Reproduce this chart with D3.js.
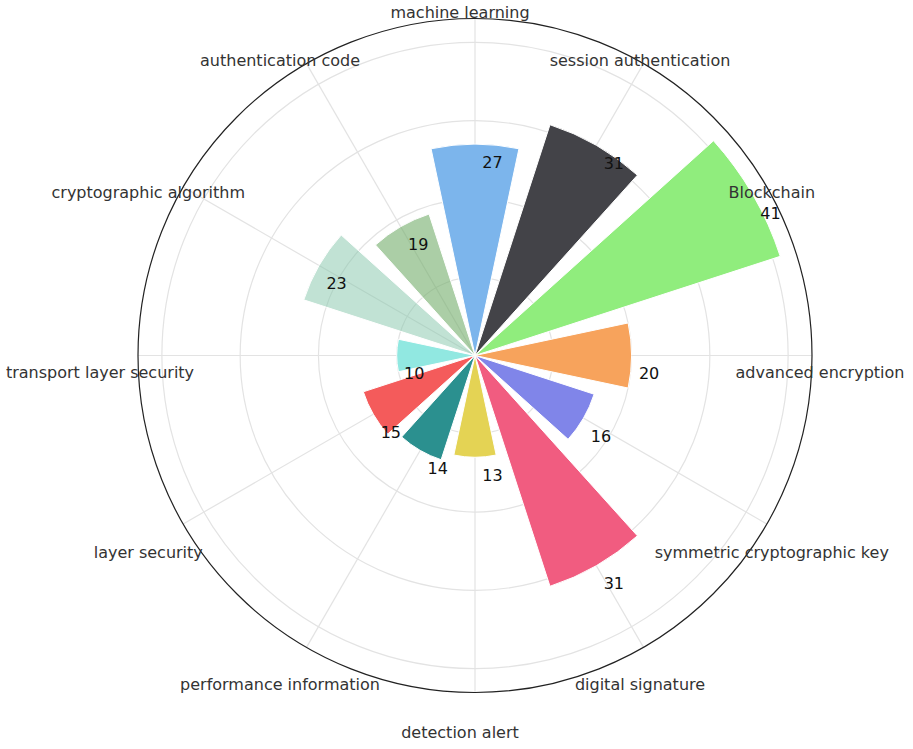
<!DOCTYPE html>
<html>
<head>
<meta charset="utf-8">
<script src="https://cdn.jsdelivr.net/npm/d3@7"></script>
<style>
  html, body { margin: 0; padding: 0; background: #fff; }
  svg { display: block; }
</style>
</head>
<body>
<script>
const categories = ["machine learning", "session authentication", "Blockchain", "advanced encryption",
  "symmetric cryptographic key", "digital signature", "detection alert", "performance information",
  "layer security", "transport layer security", "cryptographic algorithm", "authentication code"];
const values = [27, 31, 41, 20, 16, 31, 13, 14, 15, 10, 23, 19];
const colors = ["#7cb5ec", "#434348", "#90ed7d", "#f7a35c", "#8085e9", "#f15c80",
  "#e4d354", "#2b908f", "#f45b5b", "#91e8e1", "#83c5a9", "#73ad6b"];
const opacities = [1, 1, 1, 1, 1, 1, 1, 1, 1, 1, 0.5, 0.6];
const radialTicks = [10, 20, 30, 40];
const radialMax = 43.05;

const W = 913, H = 749;
const cx = 475, cy = 355.5, R = 337;
const FONT = "'DejaVu Sans', sans-serif";

const svg = d3.select("body").append("svg").attr("width", W).attr("height", H);
const g = svg.append("g").attr("transform", `translate(${cx},${cy})`);

const step = 2 * Math.PI / categories.length;
const x = d3.scaleBand().domain(categories)
  .range([-step / 2, 2 * Math.PI - step / 2])
  .paddingInner(0.2).paddingOuter(0.1);
const y = d3.scaleLinear().domain([0, radialMax]).range([0, R]);
const mid = c => x(c) + x.bandwidth() / 2;

// grid circles
g.selectAll("circle.grid").data(radialTicks).join("circle")
  .attr("class", "grid").attr("r", d => y(d))
  .attr("fill", "none").attr("stroke", "#e3e3e3").attr("stroke-width", 1.2);
// radial lines
g.selectAll("line.spoke").data(categories).join("line")
  .attr("class", "spoke")
  .attr("x1", 0).attr("y1", 0)
  .attr("x2", d => R * Math.sin(mid(d)))
  .attr("y2", d => -R * Math.cos(mid(d)))
  .attr("stroke", "#e3e3e3").attr("stroke-width", 1.2);

// bars
const arc = d3.arc()
  .innerRadius(0)
  .outerRadius(d => y(d.v))
  .startAngle(d => x(d.c))
  .endAngle(d => x(d.c) + x.bandwidth());
const data = categories.map((c, i) => ({ c, v: values[i], col: colors[i], op: opacities[i] }));
g.selectAll("path.bar").data(data).join("path")
  .attr("class", "bar")
  .attr("d", arc)
  .attr("fill", d => d.col)
  .attr("fill-opacity", d => d.op)
  .attr("stroke", "#fff").attr("stroke-width", 1);

// outer circle
g.append("circle").attr("r", R).attr("fill", "none").attr("stroke", "#222").attr("stroke-width", 1.2);

// value labels
g.selectAll("text.val").data(data).join("text")
  .attr("class", "val")
  .attr("x", d => y(d.v) * Math.sin(mid(d.c)) + 17.5)
  .attr("y", d => -y(d.v) * Math.cos(mid(d.c)) + 18)
  .attr("dy", "0.35em")
  .attr("text-anchor", "middle")
  .attr("font-family", FONT).attr("font-size", 16).attr("fill", "#111")
  .text(d => d.v);

// category labels
const LR = 360, lx = -15, ly = 17;
g.selectAll("text.cat").data(categories).join("text")
  .attr("class", "cat")
  .attr("x", d => LR * Math.sin(mid(d)) + lx)
  .attr("y", d => -LR * Math.cos(mid(d)) + ly)
  .attr("dy", "0.35em")
  .attr("text-anchor", "middle")
  .attr("font-family", FONT).attr("font-size", 16).attr("fill", "#333")
  .text(d => d);
</script>
</body>
</html>
